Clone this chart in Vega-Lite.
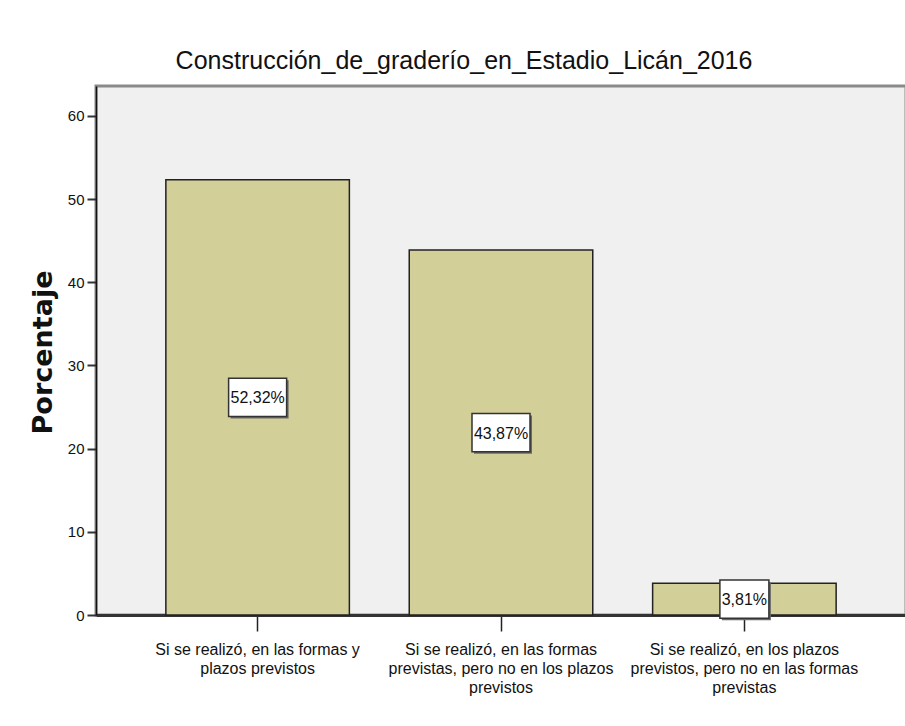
{
  "$schema": "https://vega.github.io/schema/vega-lite/v6.json",
  "autosize": {"type": "none"},
  "padding": {"left": 96, "top": 86, "right": 0, "bottom": 111},
  "width": 810,
  "height": 529,
  "background": "white",
  "title": {
    "text": "Construcción_de_graderío_en_Estadio_Licán_2016",
    "font": "Liberation Sans",
    "fontSize": 25,
    "fontWeight": "normal",
    "color": "#111",
    "anchor": "middle",
    "dx": -37,
    "dy": 24,
    "baseline": "alphabetic",
    "offset": 16
  },
  "config": {
    "view": {"fill": "#f0f0f0", "stroke": "#8a8a8a", "strokeWidth": 3}
  },
  "data": {
    "values": [
      {"categoria": "Si se realizó, en las formas y plazos previstos", "porcentaje": 52.32, "etiqueta": "52,32%"},
      {"categoria": "Si se realizó, en las formas previstas, pero no en los plazos previstos", "porcentaje": 43.87, "etiqueta": "43,87%"},
      {"categoria": "Si se realizó, en los plazos previstos, pero no en las formas previstas", "porcentaje": 3.81, "etiqueta": "3,81%"}
    ]
  },
  "encoding": {
    "x": {
      "field": "categoria",
      "type": "nominal",
      "sort": null,
      "scale": {"paddingInner": 0.246, "paddingOuter": 0.287},
      "axis": {
        "title": null,
        "labelAngle": 0,
        "labelExpr": "datum.value == 'Si se realizó, en las formas y plazos previstos' ? ['Si se realizó, en las formas y', 'plazos previstos'] : datum.value == 'Si se realizó, en las formas previstas, pero no en los plazos previstos' ? ['Si se realizó, en las formas', 'previstas, pero no en los plazos', 'previstos'] : ['Si se realizó, en los plazos', 'previstos, pero no en las formas', 'previstas']",
        "labelFont": "Liberation Sans",
        "labelFontSize": 16,
        "labelColor": "#111",
        "labelLineHeight": 19,
        "labelBaseline": "top",
        "labelPadding": 10,
        "labelLimit": 0,
        "domainColor": "#333",
        "domainWidth": 3,
        "tickColor": "#222",
        "tickWidth": 1.5,
        "tickSize": 16
      }
    }
  },
  "layer": [
    {
      "mark": {"type": "bar", "fill": "#d3cf98", "stroke": "#222", "strokeWidth": 1.5},
      "encoding": {
        "y": {
          "field": "porcentaje",
          "type": "quantitative",
          "scale": {"domain": [0, 63.6], "nice": false},
          "axis": {
            "title": "Porcentaje",
            "titleFont": "DejaVu Sans",
            "titleFontWeight": "bold",
            "titleFontSize": 27,
            "titleColor": "#111",
            "titleAngle": -90,
            "titleX": -53,
            "titleY": 266,
            "titleBaseline": "middle",
            "titleAlign": "center",
            "values": [0, 10, 20, 30, 40, 50, 60],
            "grid": false,
            "labelFont": "Liberation Sans",
            "labelFontSize": 15,
            "labelColor": "#111",
            "labelPadding": 3,
            "domainColor": "#111",
            "domainWidth": 1.5,
            "tickColor": "#333",
            "tickWidth": 2,
            "tickSize": 9
          }
        }
      }
    },
    {
      "encoding": {
        "y": {
          "field": "porcentaje",
          "type": "quantitative",
          "scale": {"domain": [0, 127.2], "nice": false},
          "axis": null
        },
        "shape": {
          "condition": {"test": "datum.porcentaje < 10", "value": "M-1,-0.78H1V0.78H-1Z"},
          "value": "M-1,-0.66H1V0.66H-1Z"
        },
        "size": {
          "condition": {"test": "datum.porcentaje < 10", "value": 2401},
          "value": 3364
        }
      },
      "layer": [
        {
          "mark": {"type": "point", "filled": true, "fill": "#6a6a6a", "opacity": 1, "strokeWidth": 0, "xOffset": 2, "yOffset": 2}
        },
        {
          "mark": {"type": "point", "filled": true, "fill": "white", "stroke": "#333", "strokeWidth": 1.5, "opacity": 1}
        },
        {
          "mark": {"type": "text", "font": "Liberation Sans", "fontSize": 16, "color": "#111", "align": "center", "baseline": "middle", "dy": 1},
          "encoding": {
            "text": {"field": "etiqueta"},
            "shape": null,
            "size": null
          }
        }
      ]
    }
  ],
  "resolve": {"scale": {"y": "independent"}}
}
